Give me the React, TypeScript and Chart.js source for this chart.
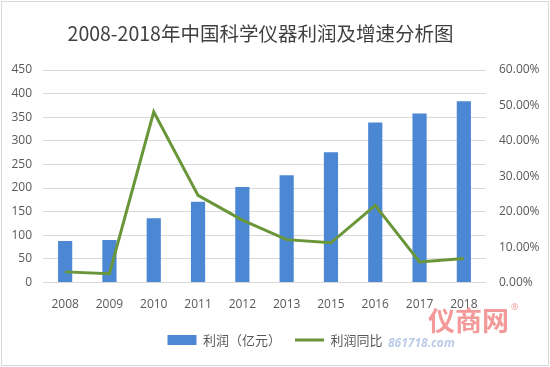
import React, { useEffect, useRef } from "react";
import { Chart, registerables } from "chart.js";

Chart.register(...registerables);

const years = ["2008", "2009", "2010", "2011", "2012", "2013", "2015", "2016", "2017", "2018"];
const profit = [88, 90, 136, 171, 202, 227, 276, 339, 358, 384];
const growth = [3.0, 2.5, 48.2, 24.6, 17.6, 12.1, 11.2, 21.8, 5.8, 6.8];
const titleText = "2008-2018年中国科学仪器利润及增速分析图";
const barLabel = "利润（亿元）";
const lineLabel = "利润同比";

const BAR_COLOR = "#4C87D4";
const LINE_COLOR = "#6A963A";
const TEXT_COLOR = "#595959";
const GRID_COLOR = "#D9D9D9";
const FONT = "'Open Sans', 'Noto Sans CJK SC', sans-serif";
const CJK_FONT = "'Noto Sans CJK SC', sans-serif";

export default function App() {
  const ref = useRef<HTMLCanvasElement | null>(null);

  useEffect(() => {
    if (!ref.current) return;
    const chart = new Chart(ref.current, {
      type: "bar",
      data: {
        labels: years,
        datasets: [
          {
            type: "bar",
            label: barLabel,
            data: profit,
            backgroundColor: BAR_COLOR,
            borderWidth: 0,
            barPercentage: 0.32,
            categoryPercentage: 1,
            yAxisID: "y",
            order: 2,
            pointStyle: "rect",
          } as any,
          {
            type: "line",
            label: lineLabel,
            data: growth,
            borderColor: LINE_COLOR,
            backgroundColor: LINE_COLOR,
            borderWidth: 3,
            pointRadius: 0,
            tension: 0,
            yAxisID: "y1",
            order: 1,
            pointStyle: "line",
          } as any,
        ],
      },
      options: {
        responsive: false,
        animation: false,
        layout: { padding: { top: 70, bottom: 10.5, left: 0, right: 0 } },
        plugins: {
          title: { display: false },
          tooltip: { enabled: false },
          legend: {
            position: "bottom",
            labels: {
              usePointStyle: true,
              pointStyleWidth: 29,
              boxHeight: 10,
              padding: 14,
              color: TEXT_COLOR,
              font: { family: CJK_FONT, size: 13 },
              sort: (a: any, b: any) => a.datasetIndex - b.datasetIndex,
            },
          },
        },
        scales: {
          x: {
            grid: { display: false, drawTicks: false },
            border: { display: false },
            ticks: { color: TEXT_COLOR, font: { family: FONT, size: 12 }, padding: 15, maxRotation: 0 },
            afterFit: (s: any) => {
              s.height = 37;
            },
          },
          y: {
            position: "left",
            min: 0,
            max: 450,
            ticks: { stepSize: 50, color: TEXT_COLOR, font: { family: FONT, size: 12 }, padding: 11 },
            grid: { color: GRID_COLOR, lineWidth: 1, drawTicks: false },
            border: { display: false },
            afterFit: (s: any) => {
              s.width = 43;
            },
          },
          y1: {
            position: "right",
            min: 0,
            max: 60,
            ticks: {
              stepSize: 10,
              color: TEXT_COLOR,
              font: { family: FONT, size: 12 },
              padding: 13,
              callback: (v: any) => Number(v).toFixed(2) + "%",
            },
            grid: { display: false, drawTicks: false },
            border: { display: false },
            afterFit: (s: any) => {
              s.width = 64;
            },
          },
        },
      } as any,
    });
    return () => chart.destroy();
  }, []);

  return (
    <div style={{ position: "fixed", left: 0, top: 0, width: 550, height: 367, background: "#fff", overflow: "hidden" }}>
      <canvas ref={ref} width={550} height={367} style={{ position: "absolute", left: 0, top: 0, width: 550, height: 367 }} />
      <div
        style={{
          position: "absolute",
          left: 1,
          top: 1,
          width: 546,
          height: 363,
          border: `1px solid ${GRID_COLOR}`,
          pointerEvents: "none",
        }}
      />
      <div
        style={{
          position: "absolute",
          left: 0,
          width: 521,
          top: 20,
          textAlign: "center",
          fontFamily: CJK_FONT,
          fontSize: 19.5,
          lineHeight: "26px",
          color: "#404040",
          whiteSpace: "nowrap",
        }}
      >
        {titleText}
      </div>
      <div
        style={{
          position: "absolute",
          left: 428,
          top: 303,
          fontFamily: CJK_FONT,
          fontSize: 27,
          lineHeight: "34px",
          fontWeight: 700,
          color: "rgba(238,110,110,0.7)",
          whiteSpace: "nowrap",
          pointerEvents: "none",
        }}
      >
        仪商网
      </div>
      <div
        style={{
          position: "absolute",
          left: 511,
          top: 300,
          fontFamily: FONT,
          fontSize: 9,
          color: "rgba(238,110,110,0.7)",
        }}
      >
        ®
      </div>
      <div
        style={{
          position: "absolute",
          left: 388,
          top: 335,
          fontFamily: FONT,
          fontSize: 12,
          fontWeight: 700,
          fontStyle: "italic",
          lineHeight: "16px",
          color: "rgba(170,190,225,0.8)",
          whiteSpace: "nowrap",
          pointerEvents: "none",
        }}
      >
        861718.com
      </div>
    </div>
  );
}
